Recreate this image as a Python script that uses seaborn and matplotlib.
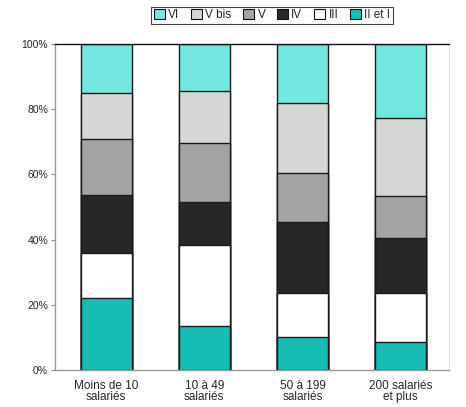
import matplotlib
matplotlib.use("Agg")
import matplotlib.pyplot as plt
import matplotlib.patches as mpatches
import numpy as np
import pandas as pd
import seaborn as sns

categories = ["Moins de 10\nsalariés", "10 à 49\nsalariés", "50 à 199\nsalariés", "200 salariés\net plus"]
# shares (%) per size class, stacked bottom to top
ii_et_i = [22.0, 13.6, 10.2, 8.5]
iii = [13.8, 24.7, 13.3, 15.0]
iv = [17.9, 13.1, 22.0, 16.9]
v = [17.2, 18.1, 15.0, 13.1]
v_bis = [14.0, 16.1, 21.5, 23.7]
vi = [15.1, 14.4, 18.0, 22.8]

series_names = ["II et I", "III", "IV", "V", "V bis", "VI"]
series_values = [ii_et_i, iii, iv, v, v_bis, vi]
colors = ["#17bdb4", "#ffffff", "#262826", "#a2a4a2", "#d5d7d4", "#72e6df"]
yticks = [0, 20, 40, 60, 80, 100]

sns.set_style("white")
plt.rcParams["font.family"] = ["Liberation Sans", "DejaVu Sans"]

fig = plt.figure(figsize=(4.66, 4.07), dpi=100)
ax = fig.add_axes([0.118, 0.091, 0.845, 0.801])

df = pd.DataFrame(dict(zip(series_names, series_values)), index=categories)
cum = df.cumsum(axis=1)

# draw cumulative totals from the top layer down so each layer covers the one above
for name, col in reversed(list(zip(series_names, colors))):
    d = pd.DataFrame({"cat": categories, "val": cum[name].values})
    sns.barplot(data=d, x="cat", y="val", color=col, saturation=1, width=0.52,
                edgecolor="#1a1a1a", linewidth=1.0, ax=ax)

ax.set_xlim(-0.52, 3.49)
ax.set_ylim(0, 100)
ax.set_yticks(yticks)
ax.set_yticklabels([f"{t}%" for t in yticks], fontsize=7.5)
ax.set_xlabel("")
ax.set_ylabel("")
ax.tick_params(axis="x", labelsize=8.5, pad=7, length=0)
for lbl in ax.get_xticklabels():
    lbl.set_linespacing(0.95)
ax.tick_params(axis="y", left=True, length=3, width=0.8, color="#888888", pad=2)

for s in ["left", "bottom"]:
    ax.spines[s].set_color("#999999")
    ax.spines[s].set_linewidth(1.0)
ax.spines["top"].set_color("#111111")
ax.spines["top"].set_linewidth(1.0)
ax.spines["right"].set_color("#dddddd")
ax.spines["right"].set_linewidth(0.8)

# legend in the order VI ... II et I
handles = [mpatches.Patch(facecolor=c, edgecolor="#111111", linewidth=0.8, label=n)
           for n, c in reversed(list(zip(series_names, colors)))]
leg = fig.legend(handles=handles, loc="center", bbox_to_anchor=(0.584, 0.962), ncol=6,
                 fontsize=8.5, frameon=True, handlelength=0.9, handleheight=0.9,
                 handletextpad=0.3, columnspacing=1.0, borderpad=0.25, fancybox=False)
leg.get_frame().set_edgecolor("#111111")
leg.get_frame().set_linewidth(0.8)

fig.savefig("out.png", dpi=100)
